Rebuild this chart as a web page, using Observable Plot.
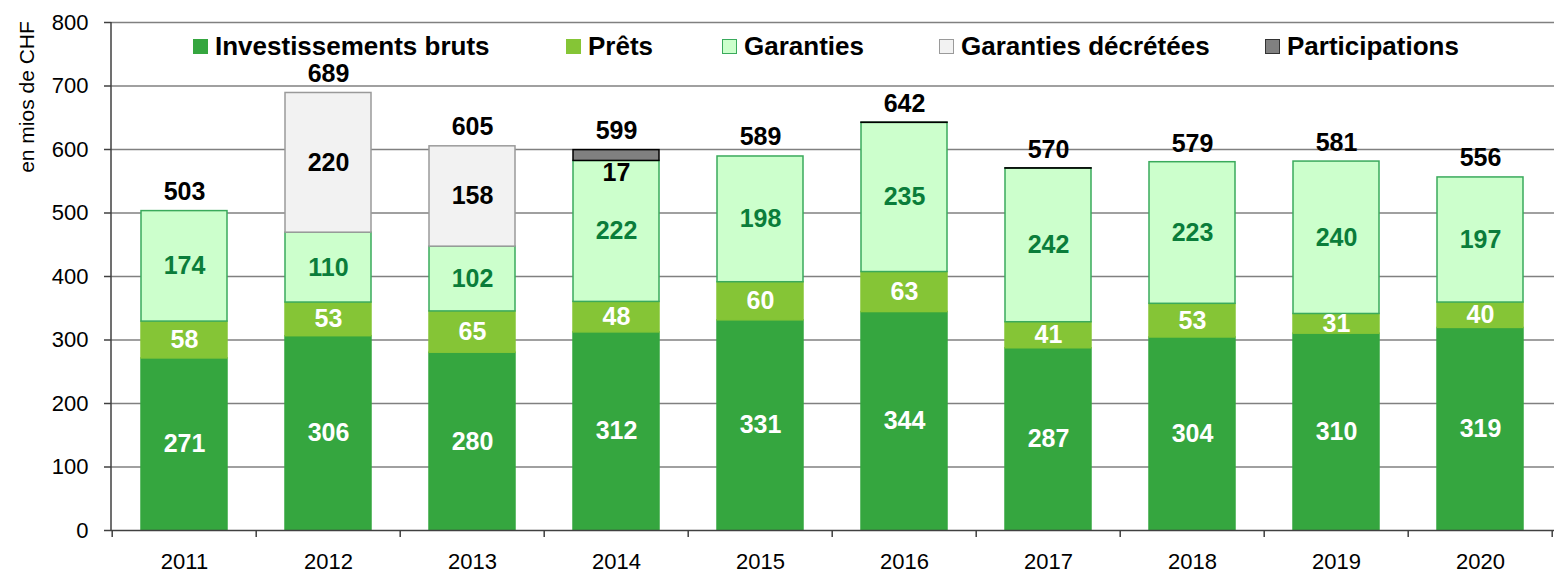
<!DOCTYPE html>
<html><head><meta charset="utf-8">
<script src="https://cdn.jsdelivr.net/npm/d3@7"></script>
<script src="https://cdn.jsdelivr.net/npm/@observablehq/plot@0.6"></script>
<style>
body{margin:0;background:#fff;}
#wrap{position:relative;width:1554px;height:574px;font-family:"Liberation Sans",Arial,sans-serif;}
#legend{position:absolute;left:0;top:29px;width:1554px;height:34px;font-weight:bold;font-size:26px;color:#000;white-space:nowrap;}
#legend .item{position:absolute;top:0;display:flex;align-items:center;height:34px;}
#legend .sw{width:15px;height:15px;margin-right:7px;box-sizing:border-box;}
#ylabel{position:absolute;left:27px;top:97px;transform:translate(-50%,-50%) rotate(-90deg);font-size:21px;white-space:nowrap;}
</style>
</head><body>
<div id="wrap"><div id="chart"></div><div id="legend"></div><div id="ylabel">en mios de CHF</div></div>
<script>
const years = ["2011","2012","2013","2014","2015","2016","2017","2018","2019","2020"];
const seriesNames = ["Investissements bruts","Prêts","Garanties","Garanties décrétées","Participations"];
const investissements = [271,306,280,312,331,344,287,304,310,319];
const prets = [58,53,65,48,60,63,41,53,31,40];
const garanties = [174,110,102,222,198,235,242,223,240,197];
const decretees = [0,220,158,0,0,0,0,0,0,0];
const participations = [0,0,0,17,0,0.3,0.3,0,0,0];
const totals = [503,689,605,599,589,642,570,579,581,556];
const yTicks = [0,100,200,300,400,500,600,700,800];

const fills = ["#35a63f","#85c536","#ccffcc","#f2f2f2","#808080"];
const strokes = ["#35a63f","#85c536","#3aaa5c","#9a9a9a","#000000"];
const labelColors = ["#ffffff","#ffffff","#0a7d3a","#000000","#000000"];
const seriesValues = [investissements, prets, garanties, decretees, participations];
const legendLeft = [193, 566, 722, 939, 1265];

const long = [];
years.forEach((y, i) => {
  seriesNames.forEach((s, k) => {
    const v = seriesValues[k][i];
    if (v > 0) long.push({year: y, series: s, k, value: v});
  });
});

const font = '"Liberation Sans",Arial,sans-serif';
const FONT_LBL = 25;

const boundaries = (index, scales, values, dims) => {
  const x = scales.x;
  const step = x(years[1]) - x(years[0]);
  const padIn = 0.4;
  const g = d3.create("svg:g");
  const y0 = dims.height - dims.marginBottom;
  const xs = years.map(yr => x(yr) - step * padIn / 2);
  xs.push(xs[xs.length - 1] + step);
  g.selectAll("line.t").data(xs).join("line")
    .attr("x1", d => d).attr("x2", d => d)
    .attr("y1", y0).attr("y2", y0 + 7)
    .attr("stroke", "#404040").attr("stroke-width", 1.5);
  g.append("line")
    .attr("x1", dims.marginLeft).attr("x2", dims.marginLeft)
    .attr("y1", dims.marginTop).attr("y2", y0)
    .attr("stroke", "#404040").attr("stroke-width", 1.5);
  return g.node();
};

const plot = Plot.plot({
  width: 1554, height: 574,
  marginLeft: 111, marginRight: 0, marginTop: 22, marginBottom: 44,
  style: {fontFamily: font, background: "#fff", overflow: "visible"},
  x: {domain: years, paddingInner: 0.4, paddingOuter: 0.2, align: 0.5, label: null},
  y: {domain: [0, 800], label: null},
  color: {type: "identity"},
  marks: [
    Plot.ruleY(yTicks.filter(t => t > 0), {stroke: "#808080", strokeWidth: 1.5}),
    Plot.barY(long, Plot.stackY({
      x: "year", y: "value", z: "series", order: seriesNames,
      fill: d => fills[d.k], stroke: d => strokes[d.k], strokeWidth: 1.5
    })),
    Plot.text(long, Plot.stackY({
      x: "year", y: "value", z: "series", order: seriesNames,
      text: d => (d.k === 4 ? null : String(Math.round(d.value))),
      fill: d => labelColors[d.k], fontSize: FONT_LBL, fontWeight: "bold"
    })),
    Plot.text(long, Plot.stackY({
      x: "year", y: "value", z: "series", order: seriesNames,
      text: d => (d.k === 4 && d.value >= 1 ? String(Math.round(d.value)) : null),
      fill: d => labelColors[d.k], fontSize: FONT_LBL, fontWeight: "bold", dy: 17
    })),
    Plot.text(years, {
      x: d => d, y: (d, i) => totals[i], text: (d, i) => String(totals[i]),
      fill: "#000", fontSize: FONT_LBL, fontWeight: "bold", dy: -19
    }),
    Plot.ruleY([0], {stroke: "#404040", strokeWidth: 1.5}),
    Plot.axisY({ticks: yTicks, tickSize: 7, tickPadding: 16, fontSize: 22, stroke: "#404040", strokeWidth: 1.5, label: null, tickFormat: d => String(d)}),
    Plot.axisX({tickSize: 0, tickPadding: 23, fontSize: 22, label: null}),
    boundaries
  ]
});
document.getElementById("chart").appendChild(plot);

const legend = document.getElementById("legend");
seriesNames.forEach((s, k) => {
  const it = document.createElement("div"); it.className = "item";
  it.style.left = legendLeft[k] + "px";
  const sw = document.createElement("div"); sw.className = "sw";
  sw.style.background = fills[k];
  sw.style.border = "1.5px solid " + (k === 0 ? fills[k] : (k === 4 ? "#333" : strokes[k]));
  const tx = document.createElement("span"); tx.textContent = s;
  it.appendChild(sw); it.appendChild(tx); legend.appendChild(it);
});
</script>
</body></html>
